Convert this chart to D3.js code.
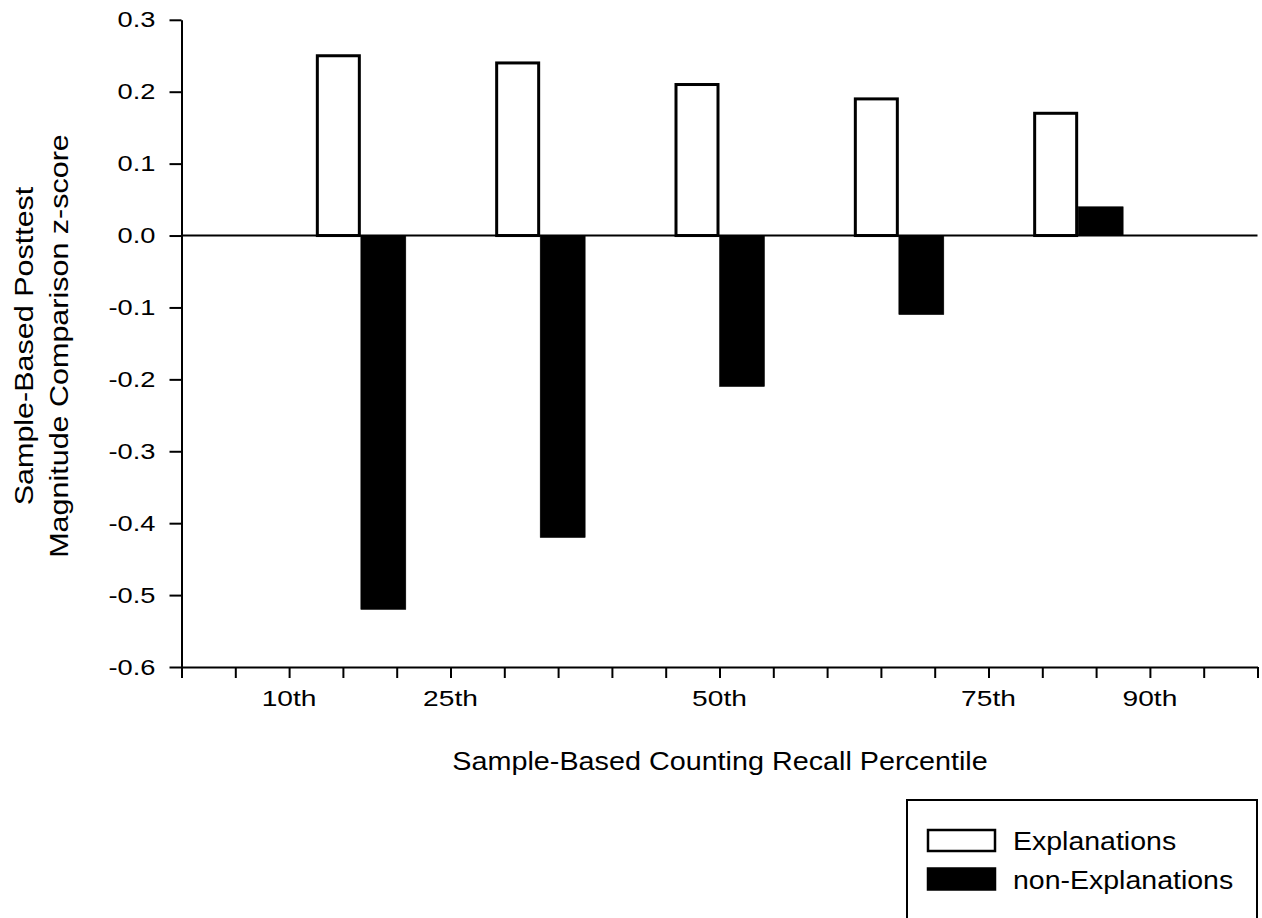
<!DOCTYPE html>
<html><head><meta charset="utf-8">
<script src="https://cdn.jsdelivr.net/npm/d3@7"></script>
<style>body{margin:0;background:#fff;overflow:hidden} text{font-family:"Liberation Sans",Arial,sans-serif;fill:#000}</style>
</head><body><svg id="c" width="1262" height="918"></svg>
<script>
const categories = ["10th","25th","50th","75th","90th"];
const tickPercentiles = [10,25,50,75,90];
const explanations = [0.25,0.24,0.21,0.19,0.17];
const nonExplanations = [-0.52,-0.42,-0.21,-0.11,0.04];
const yTicks = [0.3,0.2,0.1,0.0,-0.1,-0.2,-0.3,-0.4,-0.5,-0.6];
const seriesNames = ["Explanations","non-Explanations"];
const seriesFill = ["#fff","#000"];

(function(){
const svg = d3.select("#c");
const pL = 181.5, pR = 1257.5, pT = 19.8, pB = 667;
const x = d3.scaleLinear().domain([0,100]).range([pL,pR]);
const y = d3.scaleLinear().domain([-0.6,0.3]).range([pB,pT]);
const grp = d3.scalePoint().domain(categories).range([pL,pR]).padding(1);
const sub = d3.scaleBand().domain(seriesNames).range([-45,45]);

const data = categories.map((c,i)=>({c, vals:[explanations[i],nonExplanations[i]]}));

// bars
const g = svg.append("g");
data.forEach(d=>{
  d.vals.forEach((v,j)=>{
    const x0 = grp(d.c)+sub(seriesNames[j]);
    g.append("rect")
      .attr("x", x0 + (j===0?1.5:0))
      .attr("width", sub.bandwidth() - (j===0?3:0))
      .attr("y", Math.min(y(v),y(0)))
      .attr("height", Math.abs(y(v)-y(0)))
      .attr("fill", seriesFill[j])
      .attr("stroke", "#000")
      .attr("stroke-width", j===0?3:0.5);
  });
});

// zero line
svg.append("line").attr("x1",pL).attr("x2",pR).attr("y1",y(0)).attr("y2",y(0))
  .attr("stroke","#000").attr("stroke-width",2);

// y axis
const ySx = 1.24;
const ya = svg.append("g").attr("transform",`translate(${pL},0)`)
  .call(d3.axisLeft(y).tickValues(yTicks).tickSize(12).tickSizeOuter(0).tickPadding(26).tickFormat(d=>d.toFixed(1)));
ya.selectAll("path,line").attr("stroke","#000").attr("stroke-width",2);
ya.selectAll("text").attr("font-size",22).attr("font-family","Liberation Sans, Arial, sans-serif")
  .attr("x",-26/ySx).attr("transform",`scale(${ySx},1)`);

// x axis
const xa = svg.append("g").attr("transform",`translate(0,${pB})`)
  .call(d3.axisBottom(x).tickValues(d3.range(0,101,5)).tickSize(11).tickSizeOuter(0).tickFormat(""));
xa.selectAll("path,line").attr("stroke","#000").attr("stroke-width",2);

const xSx = 1.28;
svg.append("g").selectAll("text").data(tickPercentiles).join("text")
  .attr("transform",(d)=>`translate(${x(d)},706) scale(${xSx},1)`)
  .attr("text-anchor","middle").attr("font-size",22)
  .text((d,i)=>categories[i]);

// axis titles
svg.append("text").attr("transform","translate(720,770) scale(1.15,1)").attr("text-anchor","middle").attr("font-size",25)
  .text("Sample-Based Counting Recall Percentile");
const yt = svg.append("text").attr("transform","translate(0,346) rotate(-90) scale(1.22,1)").attr("text-anchor","middle").attr("font-size",25);
yt.append("tspan").attr("x",0).attr("y",33).text("Sample-Based Posttest");
yt.append("tspan").attr("x",0).attr("y",68).text("Magnitude Comparison z-score");

// legend
const lg = svg.append("g");
lg.append("rect").attr("x",907).attr("y",800).attr("width",350).attr("height",150)
  .attr("fill","none").attr("stroke","#000").attr("stroke-width",2);
seriesNames.forEach((s,i)=>{
  lg.append("rect").attr("x",928).attr("y",830+i*38.5).attr("width",67).attr("height",21)
    .attr("fill",seriesFill[i]).attr("stroke","#000").attr("stroke-width",2.5);
  lg.append("text").attr("transform",`translate(1013,${850+i*39}) scale(1.14,1)`).attr("font-size",25).text(s);
});
})();
</script></body></html>
